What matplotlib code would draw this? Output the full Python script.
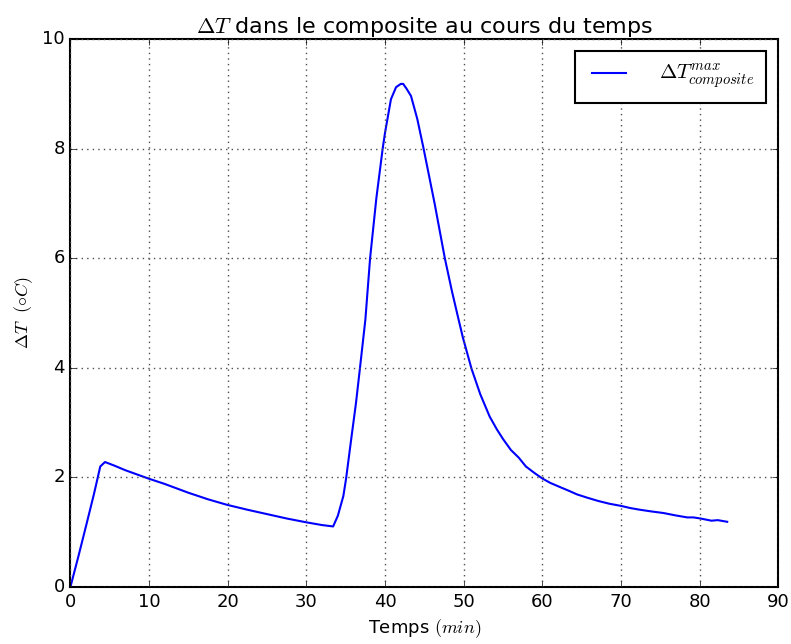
import numpy as np
import matplotlib
matplotlib.use('Agg')
from matplotlib import pyplot as plt

# temps (min) et delta T max dans le composite (degres C)
temps = [0, 1, 2, 3, 3.8, 4.4, 5.5, 7, 9.9, 12, 15, 17.5, 19.9, 22.5, 25, 27.5, 30, 32, 33.4,
         34.0, 34.7, 35.05, 35.7, 36.3, 36.8, 37.5, 38.1, 38.9, 39.7, 40.0, 40.75, 41.4, 42.0,
         42.3, 42.7, 43.3, 44.1, 44.9, 46.3, 47.6, 48.5, 49.3, 49.9, 51.0, 52.1, 53.3, 54.2,
         55.0, 56.0, 57.0, 57.9, 59.0, 60.0, 61.0, 62.3, 63.3, 64.4, 65.7, 67.1, 68.5, 70.0,
         71.2, 72.4, 73.8, 75.4, 76.8, 78.4, 79.2, 80.1, 81.5, 82.3, 83.5]
delta_T = [0, 0.55, 1.12, 1.7, 2.2, 2.28, 2.22, 2.13, 1.98, 1.88, 1.72, 1.60, 1.50, 1.41, 1.33,
           1.25, 1.18, 1.13, 1.105,
           1.3, 1.66, 1.98, 2.70, 3.35, 3.98, 4.88, 6.0, 7.1, 8.0, 8.29, 8.9, 9.12, 9.18,
           9.18, 9.1, 8.96, 8.54, 8.0, 7.0, 6.0, 5.4, 4.91, 4.55, 3.98, 3.52, 3.11, 2.88,
           2.70, 2.50, 2.36, 2.20, 2.08, 1.98, 1.90, 1.82, 1.76, 1.69, 1.63, 1.57, 1.52, 1.48,
           1.44, 1.41, 1.38, 1.35, 1.31, 1.27, 1.27, 1.25, 1.21, 1.22, 1.19]

plt.style.use('classic')
plt.rcParams['mathtext.fontset'] = 'cm'

fig = plt.figure(figsize=(7.91, 6.44), dpi=100, facecolor='white')
ax = fig.add_axes([0.089, 0.0885, 0.895, 0.851])

ax.plot(temps, delta_T, color='b', lw=1.5, label=r'$\Delta T^{max}_{composite}$')

ax.set_xlim(0, 90)
ax.set_ylim(0, 10)
ax.set_xticks(np.arange(0, 91, 10))
ax.set_yticks(np.arange(0, 11, 2))
ax.tick_params(labelsize=13)
for sp in ax.spines.values():
    sp.set_linewidth(1.5)
ax.grid(True, linestyle=':', color='0.3', lw=1)

ax.set_title(r'$\Delta T$ dans le composite au cours du temps', fontsize=16, pad=4)
ax.set_xlabel(r'Temps $(min)$', fontsize=13)
ax.set_ylabel(r'$\Delta T\ \ (\circ C)$', fontsize=13)

leg = ax.legend(loc='upper right', fontsize=15, handlelength=2.2, borderpad=0.55,
                handletextpad=1.3, borderaxespad=0.6)
leg.get_frame().set_linewidth(1.5)

fig.savefig('out.png', dpi=100, facecolor='white')
